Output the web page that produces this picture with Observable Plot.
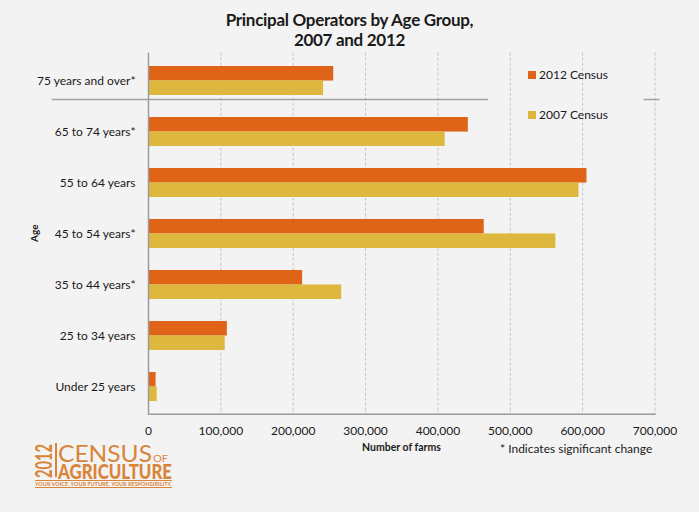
<!DOCTYPE html>
<html><head><meta charset="utf-8">
<script src="https://cdn.jsdelivr.net/npm/d3@7"></script>
<script src="https://cdn.jsdelivr.net/npm/@observablehq/plot@0.6"></script>
<style>
html,body{margin:0;padding:0;background:#F4F3F3;}
#wrap{position:relative;width:699px;height:512px;overflow:hidden;font-family:Lato,"Open Sans",sans-serif;color:#1a1a1a;}
#chart{position:absolute;left:0;top:0;}
.abs{position:absolute;white-space:nowrap;}
#title{left:0px;width:699px;top:10px;text-align:center;font-weight:700;font-size:17px;line-height:20px;letter-spacing:-0.3px;}
.leg{font-size:12px;line-height:14px;}
.sw{display:inline-block;width:8px;height:8px;margin-right:3px;vertical-align:-0px;}
#agelab{font-size:10px;font-weight:700;transform-origin:0 0;transform:rotate(-90deg);}
#xlab{font-size:10.5px;font-weight:700;}
#note{font-size:12px;}
.logo{color:#D8853A;transform-origin:0 0;}
.logoline{position:absolute;background:#D8853A;}
</style>
</head><body>
<div id="wrap">
  <div id="chart"></div>
  <div id="title" class="abs">Principal Operators by Age Group,<br>2007 and 2012</div>
  <div class="abs leg" id="leg1" style="left:528px;top:68px;"><span class="sw" style="background:#E06418"></span>2012 Census</div>
  <div class="abs leg" id="leg2" style="left:528px;top:108px;"><span class="sw" style="background:#DDB73E"></span>2007 Census</div>
  <div class="abs" id="agelab" style="left:28px;top:242px;">Age</div>
  <div class="abs" id="xlab" style="left:362px;top:441px;">Number of farms</div>
  <div class="abs" id="note" style="left:500px;top:441px;">* Indicates significant change</div>
  <div class="abs logo" id="l2012" style="left:35px;top:478px;font-size:22px;font-weight:700;line-height:17px;">2012</div>
  <div class="logoline" style="left:55px;top:443px;width:1.5px;height:34px;"></div>
  <div class="abs logo" id="lcensus" style="left:58px;top:443.7px;font-size:24px;font-weight:400;line-height:18px;">CENSUS</div>
  <div class="abs logo" id="lof" style="left:153px;top:455.4px;font-size:9px;font-weight:400;line-height:7px;">OF</div>
  <div class="abs logo" id="lagri" style="left:58px;top:462.6px;font-size:21px;font-weight:900;line-height:15px;">AGRICULTURE</div>
  <div class="logoline" style="left:35px;top:480px;width:137px;height:1px;"></div>
  <div class="abs logo" id="ltag" style="left:35px;top:481px;font-size:5.5px;font-weight:700;line-height:6px;">YOUR VOICE. YOUR FUTURE. YOUR RESPONSIBILITY.</div>
  <div class="logoline" style="left:35px;top:487px;width:137px;height:1px;"></div>
</div>
<script>
// ---- data ----
const ages = ["75 years and over*", "65 to 74 years*", "55 to 64 years", "45 to 54 years*", "35 to 44 years*", "25 to 34 years", "Under 25 years"];
const series = ["2012 Census", "2007 Census"];
const census2012 = [256000, 442000, 606000, 464000, 213000, 109000, 10500];
const census2007 = [242000, 410000, 595000, 563000, 267000, 106000, 12000];
const xTicks = [0, 100000, 200000, 300000, 400000, 500000, 600000, 700000];

// ---- layout ----
const W = 699, H = 512, mt = 52.7, mb = 98.3, ml = 148, mr = 44.5;
const pIn = 0.44, pOut = 0.22;
const step = (H - mt - mb) / (ages.length - pIn + 2 * pOut);
const half = step * (1 - pIn) / 2;

const rows2012 = ages.map((a, i) => ({age: a, census: series[0], value: census2012[i]}));
const rows2007 = ages.map((a, i) => ({age: a, census: series[1], value: census2007[i]}));

const chart = Plot.plot({
  width: W, height: H,
  marginTop: mt, marginBottom: mb, marginLeft: ml, marginRight: mr,
  style: {background: "transparent", fontFamily: "Lato, 'Open Sans', sans-serif", fontSize: "12px", color: "#1a1a1a"},
  x: {domain: [0, 700000], ticks: xTicks, tickFormat: d3.format(","), tickSize: 0, tickPadding: 12, label: null},
  y: {domain: ages, paddingInner: pIn, paddingOuter: pOut, tickSize: 0, tickPadding: 13, label: null},
  color: {domain: series, range: ["#E06418", "#DDB73E"]},
  marks: [
    Plot.ruleX(xTicks.filter(d => d > 0), {stroke: "#c4c4c4", strokeDasharray: "3,2"}),
    Plot.barX(rows2012, {x: "value", y: "age", fill: "census", insetBottom: half}),
    Plot.barX(rows2007, {x: "value", y: "age", fill: "census", insetTop: half}),
    Plot.ruleX([0], {stroke: "#9b9b9b", strokeWidth: 1.5}),
    Plot.frame({anchor: "bottom", stroke: "#9b9b9b", strokeWidth: 1.5}),
    Plot.ruleY([ages[0]], {dy: 18.5, x1: -133000, x2: 470000, stroke: "#a3a3a3", strokeWidth: 1.5}),
    Plot.ruleY([ages[0]], {dy: 18.5, x1: 685000, x2: 707000, stroke: "#a3a3a3", strokeWidth: 1.5})
  ]
});
document.getElementById("chart").appendChild(chart);

// ---- fit logo text widths ----
function fit(id, width, extra) {
  const el = document.getElementById(id);
  el.style.display = "inline-block";
  const w = el.getBoundingClientRect().width;
  el.style.transform = (extra || "") + ` scaleX(${width / w})`;
}
fit("lcensus", 94);
fit("lof", 15);
fit("lagri", 114);
fit("ltag", 137);
fit("l2012", 34, "rotate(-90deg)");
</script>
</body></html>
